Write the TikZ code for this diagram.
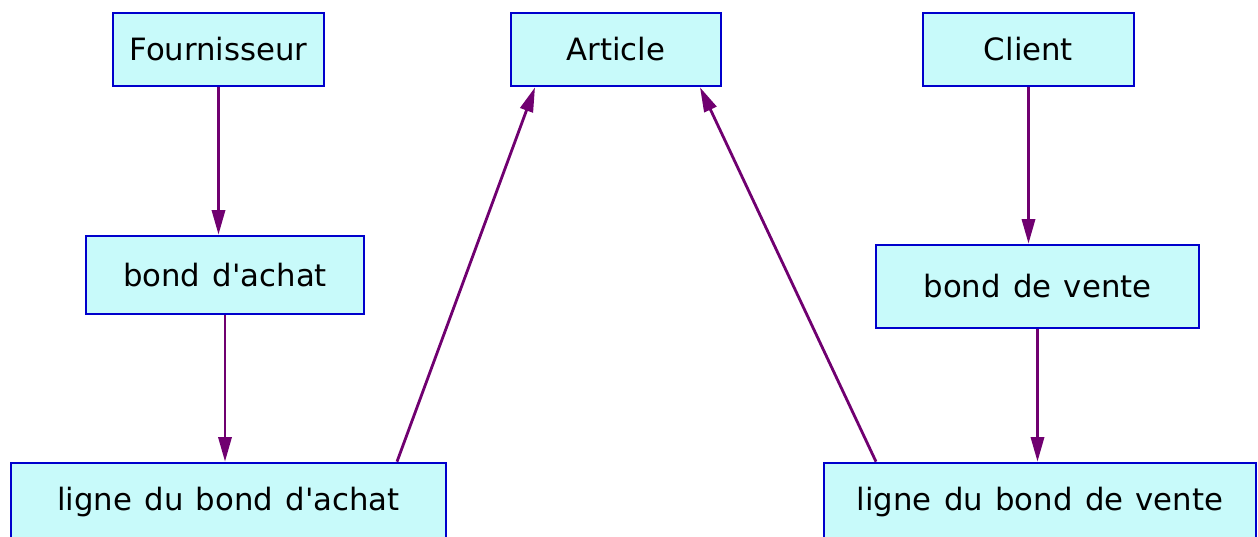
\documentclass[tikz,border=0pt]{standalone}
\usepackage{fontspec}
\setmainfont{DejaVu Sans}
\usetikzlibrary{calc, arrows.meta}
\definecolor{boxfill}{HTML}{C8FAFA}
\definecolor{boxdraw}{HTML}{0000CC}
\definecolor{linkcol}{HTML}{700070}
\newcommand{\apos}{\textquotesingle}
\newcommand{\boxfont}{\fontsize{17.5}{20}\selectfont\setlength{\spaceskip}{0.40em}}
\tikzset{
  entity box/.style={draw=boxdraw, fill=boxfill, line width=1.5pt, minimum height=1.46cm,
    font=\boxfont, text=black, inner sep=0pt},
  link line/.style={draw=linkcol, line width=1.6pt, -{Triangle[length=14pt, width=7.5pt]}},
}

\begin{document}
\begin{tikzpicture}
  \useasboundingbox (0,0) rectangle (25.16,10.74);
  \node[entity box, minimum width=4.22cm] (fourn) at (4.37, 9.75) {Fournisseur};
  \node[entity box, minimum width=4.20cm] (article) at (12.32, 9.75) {Article};
  \node[entity box, minimum width=4.22cm] (client) at (20.57, 9.75) {Client};
  \node[entity box, minimum width=5.56cm, minimum height=1.56cm] (bachat) at (4.50, 5.24) {bond d\apos achat};
  \node[entity box, minimum width=6.46cm, minimum height=1.66cm] (bvente) at (20.75, 5.01) {bond de vente};
  \node[entity box, minimum width=8.70cm, minimum height=1.56cm] (lachat) at (4.57, 0.70) {ligne du bond d\apos achat};
  \node[entity box, minimum width=8.64cm, minimum height=1.56cm] (lvente) at (20.80, 0.70) {ligne du bond de vente};

  \draw[link line] (fourn.south) -- (fourn.south |- bachat.north);
  \draw[link line] (bachat.south) -- (bachat.south |- lachat.north);
  \draw[link line] (client.south) -- (client.south |- bvente.north);
  \draw[link line] (bvente.south) -- (bvente.south |- lvente.north);
  \draw[link line] ($(lachat.north)+(3.37,0)$) -- ($(article.south)+(-1.62,0)$);
  \draw[link line] ($(lvente.north)+(-3.28,0)$) -- ($(article.south)+(1.68,0)$);
\end{tikzpicture}
\end{document}
